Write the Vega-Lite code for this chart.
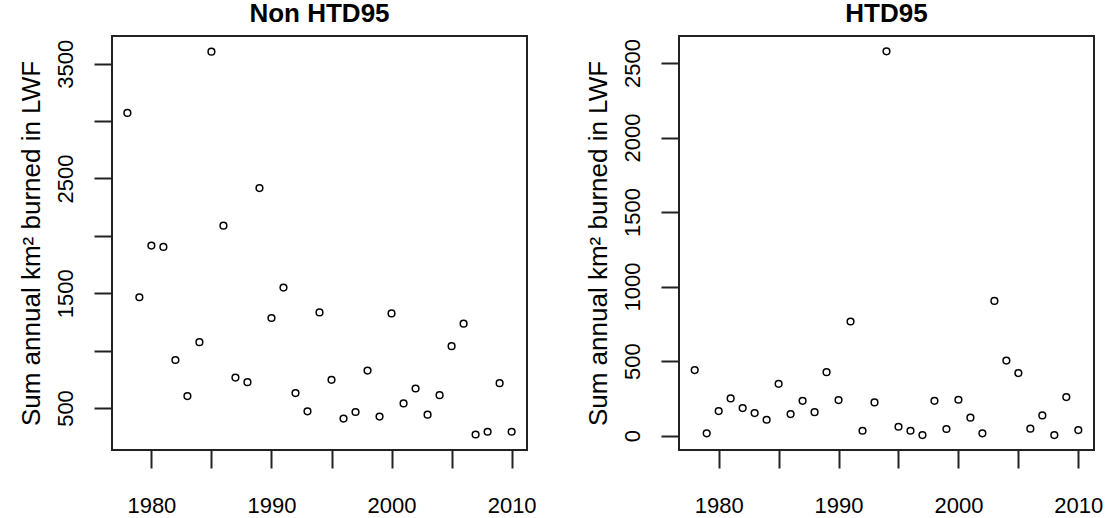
{
  "$schema": "https://vega.github.io/schema/vega-lite/v6.json",
  "padding": {"left": 16, "top": 0, "right": 0, "bottom": 0},
  "background": "white",
  "bounds": "flush",
  "spacing": 152,
  "config": {
    "font": "Liberation Sans",
    "view": {"stroke": "#222", "strokeWidth": 2},
    "axis": {
      "grid": false,
      "domain": false,
      "ticks": true,
      "tickColor": "#222",
      "tickWidth": 2,
      "tickSize": 18,
      "labelFont": "Liberation Sans",
      "labelFontSize": 22,
      "labelColor": "black",
      "titleFont": "Liberation Sans",
      "titleFontSize": 26,
      "titleFontWeight": "normal",
      "titleColor": "black"
    },
    "axisX": {
      "labelBaseline": "alphabetic",
      "labelPadding": 44,
      "labelFlush": false,
      "labelOverlap": false
    },
    "axisY": {
      "labelAngle": 270,
      "labelAlign": "center",
      "labelBaseline": "alphabetic",
      "labelPadding": 22,
      "labelOverlap": false,
      "titleAngle": 270,
      "titleAlign": "center",
      "titleBaseline": "alphabetic",
      "titleX": -73,
      "titleY": 207
    },
    "title": {
      "font": "Liberation Sans",
      "fontSize": 26,
      "fontWeight": "bold",
      "color": "black",
      "anchor": "middle",
      "baseline": "alphabetic",
      "offset": 9
    }
  },
  "datasets": {
    "nonHTD95": [
      {"year": 1978, "km2": 3071}, {"year": 1979, "km2": 1465}, {"year": 1980, "km2": 1915},
      {"year": 1981, "km2": 1903}, {"year": 1982, "km2": 918}, {"year": 1983, "km2": 604},
      {"year": 1984, "km2": 1073}, {"year": 1985, "km2": 3604}, {"year": 1986, "km2": 2088},
      {"year": 1987, "km2": 765}, {"year": 1988, "km2": 725}, {"year": 1989, "km2": 2416},
      {"year": 1990, "km2": 1284}, {"year": 1991, "km2": 1549}, {"year": 1992, "km2": 630},
      {"year": 1993, "km2": 471}, {"year": 1994, "km2": 1333}, {"year": 1995, "km2": 745},
      {"year": 1996, "km2": 408}, {"year": 1997, "km2": 465}, {"year": 1998, "km2": 826},
      {"year": 1999, "km2": 425}, {"year": 2000, "km2": 1324}, {"year": 2001, "km2": 540},
      {"year": 2002, "km2": 670}, {"year": 2003, "km2": 442}, {"year": 2004, "km2": 612},
      {"year": 2005, "km2": 1039}, {"year": 2006, "km2": 1235}, {"year": 2007, "km2": 269},
      {"year": 2008, "km2": 293}, {"year": 2009, "km2": 716}, {"year": 2010, "km2": 293}
    ],
    "HTD95": [
      {"year": 1978, "km2": 440}, {"year": 1979, "km2": 16}, {"year": 1980, "km2": 165},
      {"year": 1981, "km2": 250}, {"year": 1982, "km2": 185}, {"year": 1983, "km2": 152},
      {"year": 1984, "km2": 107}, {"year": 1985, "km2": 348}, {"year": 1986, "km2": 145},
      {"year": 1987, "km2": 234}, {"year": 1988, "km2": 158}, {"year": 1989, "km2": 426},
      {"year": 1990, "km2": 239}, {"year": 1991, "km2": 766}, {"year": 1992, "km2": 33},
      {"year": 1993, "km2": 223}, {"year": 1994, "km2": 2578}, {"year": 1995, "km2": 60},
      {"year": 1996, "km2": 33}, {"year": 1997, "km2": 4}, {"year": 1998, "km2": 234},
      {"year": 1999, "km2": 45}, {"year": 2000, "km2": 241}, {"year": 2001, "km2": 121},
      {"year": 2002, "km2": 16}, {"year": 2003, "km2": 904}, {"year": 2004, "km2": 504},
      {"year": 2005, "km2": 420}, {"year": 2006, "km2": 47}, {"year": 2007, "km2": 136},
      {"year": 2008, "km2": 4}, {"year": 2009, "km2": 259}, {"year": 2010, "km2": 38}
    ]
  },
  "hconcat": [
    {
      "title": "Non HTD95",
      "width": 415,
      "height": 414,
      "data": {"name": "nonHTD95"},
      "mark": {"type": "point", "shape": "circle", "filled": false, "stroke": "black", "strokeWidth": 1.5, "size": 45, "opacity": 1},
      "encoding": {
        "x": {
          "field": "year",
          "type": "quantitative",
          "scale": {"domain": [1976.72, 2011.28], "nice": false, "zero": false},
          "axis": {
            "title": null,
            "values": [1980, 1985, 1990, 1995, 2000, 2005, 2010],
            "format": "d",
            "labelExpr": "datum.value % 10 == 0 ? datum.label : ''"
          }
        },
        "y": {
          "field": "km2",
          "type": "quantitative",
          "scale": {"domain": [134, 3741], "nice": false, "zero": false},
          "axis": {
            "title": "Sum annual km² burned in LWF",
            "values": [500, 1000, 1500, 2000, 2500, 3000, 3500],
            "format": "d",
            "labelExpr": "datum.value % 1000 == 500 ? datum.label : ''"
          }
        }
      }
    },
    {
      "title": "HTD95",
      "width": 415,
      "height": 414,
      "data": {"name": "HTD95"},
      "mark": {"type": "point", "shape": "circle", "filled": false, "stroke": "black", "strokeWidth": 1.5, "size": 45, "opacity": 1},
      "encoding": {
        "x": {
          "field": "year",
          "type": "quantitative",
          "scale": {"domain": [1976.69, 2011.31], "nice": false, "zero": false},
          "axis": {
            "title": null,
            "values": [1980, 1985, 1990, 1995, 2000, 2005, 2010],
            "format": "d",
            "labelExpr": "datum.value % 10 == 0 ? datum.label : ''"
          }
        },
        "y": {
          "field": "km2",
          "type": "quantitative",
          "scale": {"domain": [-96, 2681], "nice": false, "zero": false},
          "axis": {
            "title": "Sum annual km² burned in LWF",
            "values": [0, 500, 1000, 1500, 2000, 2500],
            "format": "d"
          }
        }
      }
    }
  ]
}
